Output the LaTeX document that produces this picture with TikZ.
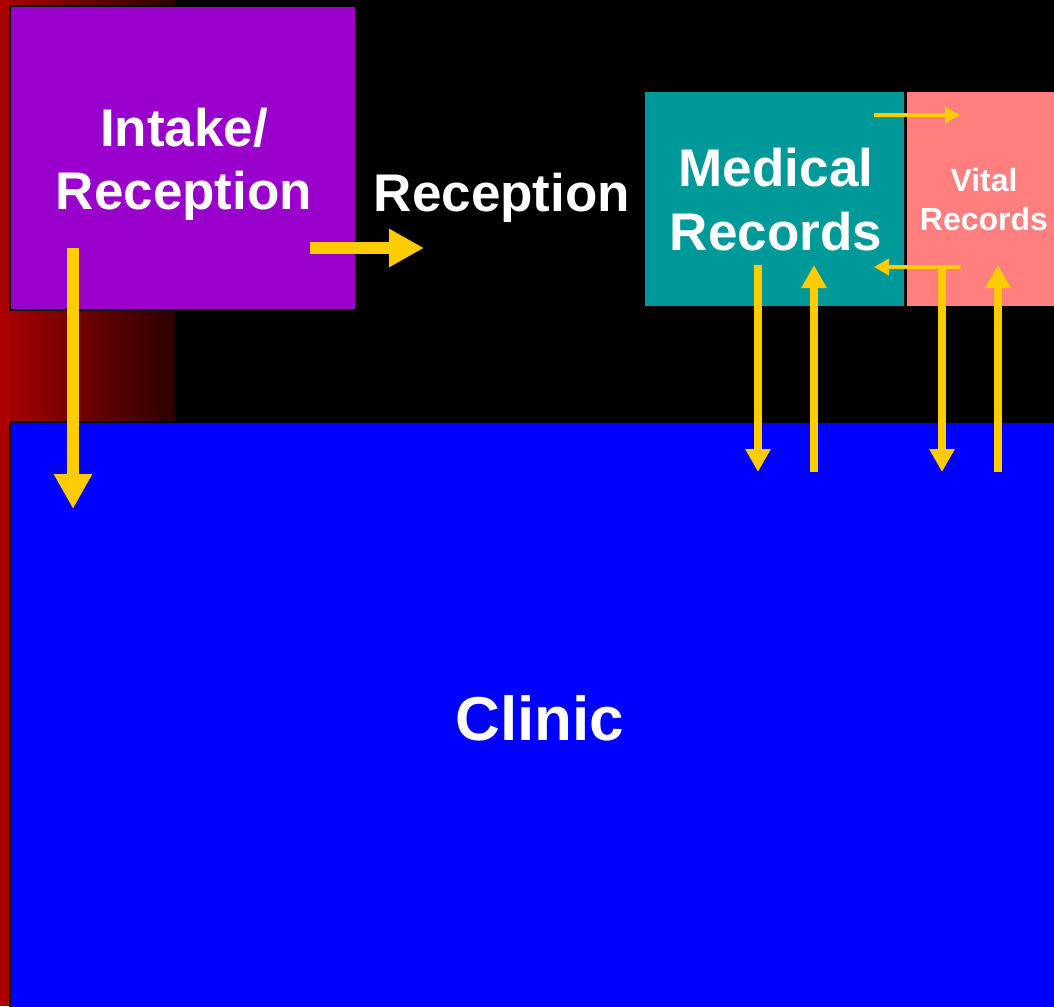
\documentclass[tikz,border=0pt]{standalone}
\usepackage{fontspec}
\setmainfont{Liberation Sans}
\usetikzlibrary{arrows.meta}
\definecolor{bgred}{HTML}{AA0000}
\definecolor{darkred}{HTML}{2A0000}
\definecolor{purplebox}{HTML}{9900CC}
\definecolor{tealbox}{HTML}{009999}
\definecolor{pinkbox}{HTML}{FF7F7F}
\definecolor{clinicblue}{HTML}{0000FF}
\definecolor{flowyellow}{HTML}{FFCC00}
\tikzset{
  roombox/.style={draw=black, line width=2pt, anchor=north west, inner sep=0pt, outer sep=0pt},
  roomlabel/.style={text=white, font=\bfseries, align=center, inner sep=0pt},
  bigflow/.style={draw=flowyellow, line width=12pt, -{Triangle[width=36pt,length=35pt]}},
  midflow/.style={draw=flowyellow, line width=8pt, -{Triangle[width=24pt,length=23pt]}},
  smallflow/.style={draw=flowyellow, line width=4pt, -{Triangle[width=16pt,length=15pt]}}
}
\begin{document}
\begin{tikzpicture}[x=1pt,y=-1pt]
\useasboundingbox (0,0) rectangle (1054,1006);
\fill[black] (0,0) rectangle (1054,1006);
\shade[left color=bgred, right color=darkred, shading angle=90] (0,0) rectangle (175,422);
\fill[bgred] (0,0) rectangle (9,1006);
% rooms
\node[roombox, fill=purplebox, minimum width=346pt, minimum height=304pt] (intake) at (10,6) {};
\node[roombox, fill=clinicblue, minimum width=1046pt, minimum height=586pt] (clinic) at (10,422) {};
\node[roombox, draw=none, fill=tealbox, minimum width=260pt, minimum height=214pt] (medrec) at (645,92) {};
\node[roombox, draw=none, fill=pinkbox, minimum width=147pt, minimum height=214pt] (vitrec) at (907,92) {};
\draw[black, line width=2pt] (medrec.north east) -- (medrec.south east);
% labels
\node[roomlabel, font=\bfseries\fontsize{53}{63}\selectfont] (intaketxt) at (184,164) {Intake/\\Reception};
\node[roomlabel, font=\bfseries\fontsize{53}{63}\selectfont, anchor=base] (receptxt) at (502,211) {Reception};
\node[roomlabel, font=\bfseries\fontsize{53}{64}\selectfont] (medtxt) at (776,200) {Medical\\Records};
\node[roomlabel, font=\bfseries\fontsize{32}{39}\selectfont] (vittxt) at (984,200) {Vital\\Records};
\node[roomlabel, font=\bfseries\fontsize{62}{74}\selectfont, anchor=base] (clinictxt) at (540,740) {Clinic};
% arrow ends
\coordinate (a1s) at (73,248);  \coordinate (a1e) at (73,509);
\coordinate (a2s) at (310,248); \coordinate (a2e) at (424,248);
\coordinate (m1s) at (758,265); \coordinate (m1e) at (758,472);
\coordinate (m2s) at (814,472); \coordinate (m2e) at (814,265);
\coordinate (v1s) at (942,266); \coordinate (v1e) at (942,472);
\coordinate (v2s) at (998,472); \coordinate (v2e) at (998,265);
\coordinate (s1s) at (874,115); \coordinate (s1e) at (960,115);
\coordinate (s2s) at (961,267); \coordinate (s2e) at (874,267);
% flows
\draw[bigflow] (a1s) -- (a1e);
\draw[bigflow] (a2s) -- (a2e);
\draw[midflow] (m1s) -- (m1e);
\draw[midflow] (m2s) -- (m2e);
\draw[midflow] (v1s) -- (v1e);
\draw[midflow] (v2s) -- (v2e);
\draw[smallflow] (s1s) -- (s1e);
\draw[smallflow] (s2s) -- (s2e);
\end{tikzpicture}
\end{document}
